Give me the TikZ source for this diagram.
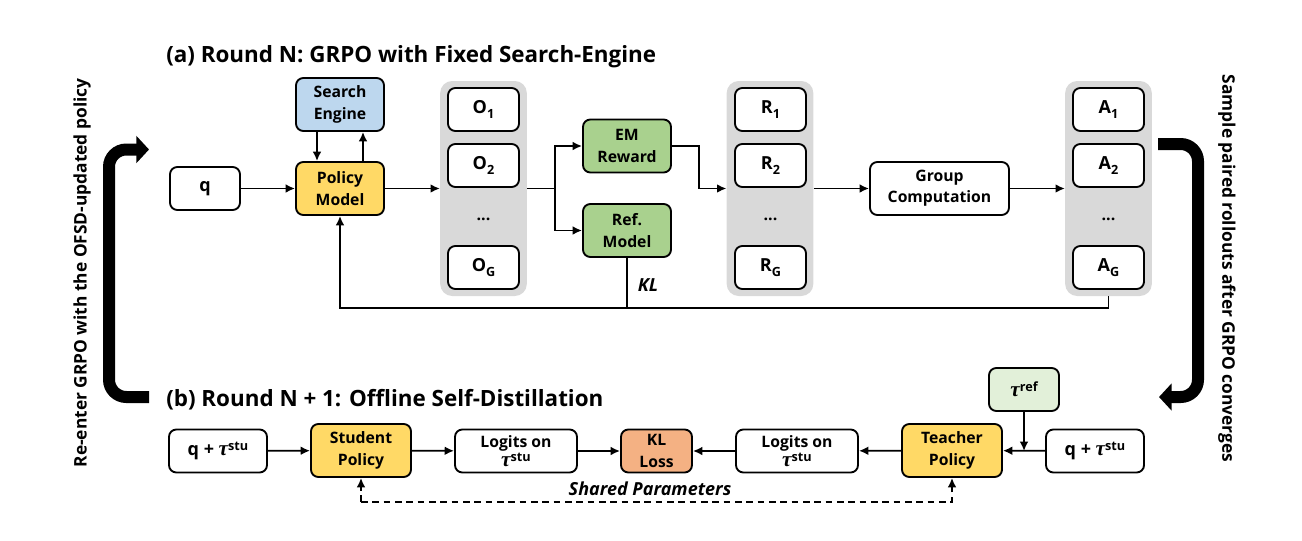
\documentclass[tikz,border=0pt]{standalone}
\usepackage{fontspec}
\setmainfont{Open Sans}
\newfontfamily\taufont{Liberation Serif}
\usetikzlibrary{arrows.meta}
\newcommand{\lowtxt}[1]{\raisebox{-0.45ex}{\fontsize{9.5pt}{9.5pt}\selectfont #1}}
\newcommand{\hightxt}[1]{\raisebox{0.6ex}{\fontsize{9.5pt}{9.5pt}\selectfont #1}}
\newcommand{\tautxt}{{\taufont\bfseries\itshape\fontsize{16pt}{14pt}\selectfont τ}}
\newcommand{\bigtxt}{\fontsize{13.5pt}{14pt}\selectfont}
\tikzset{
  basebox/.style={draw=black,line width=1.4pt,rounded corners=5.5pt,align=center,inner sep=0pt,
    font=\fontsize{11.8pt}{16pt}\selectfont\bfseries,text=black},
  plainbox/.style={basebox,fill=white},
  rowbox/.style={plainbox,minimum width=53.25pt,minimum height=32.25pt,font=\bigtxt\bfseries},
  smallbox/.style={basebox,minimum width=66pt,minimum height=39.75pt},
  panelbox/.style={fill=black!15,draw=none,rounded corners=9pt,minimum width=65pt,minimum height=161.25pt,inner sep=0pt},
  link/.style={draw=black,line width=1.35pt,-{Latex[length=7pt,width=6.5pt]}},
  plainlink/.style={draw=black,line width=1.35pt},
  dashlink/.style={link,dash pattern=on 5pt off 3.5pt},
  bigarrow/.style={draw=black,line width=9pt,rounded corners=13pt,-{Triangle[length=9.5pt,width=20pt]}},
  titletext/.style={font=\fontsize{16.8pt}{18pt}\selectfont\bfseries,text=black,inner sep=0pt,anchor=west},
  sidetext/.style={font=\fontsize{13pt}{14pt}\selectfont\bfseries,text=black,inner sep=0pt},
  notetext/.style={font=\fontsize{13.5pt}{14pt}\selectfont\bfseries\itshape,text=black,inner sep=0pt},
  dotstext/.style={font=\fontsize{12pt}{12pt}\selectfont\bfseries,inner sep=0pt}
}
\definecolor{blueb}{HTML}{BDD7EE}
\definecolor{yellowb}{HTML}{FFD966}
\definecolor{greenb}{HTML}{A9D18E}
\definecolor{paleg}{HTML}{E2F0D9}
\definecolor{orangeb}{HTML}{F4B183}
\begin{document}
\begin{tikzpicture}[x=0.75pt,y=-0.75pt]
\useasboundingbox (0,0) rectangle (1302,540);

% titles
\node[titletext] (ta) at (166,57) {(a) Round N: GRPO with Fixed Search-Engine};
\node[titletext] (tb) at (166,400) {(b) Round N + 1: Offline Self-Distillation};
\node[sidetext,rotate=90] (sl) at (82,273) {Re-enter GRPO with the OFSD-updated policy};
\node[sidetext,rotate=-90] (sr) at (1227,268.5) {Sample paired rollouts after GRPO converges};

% panels
\node[panelbox] (op) at (483.5,188.5) {};
\node[panelbox] (rp) at (770,188.5) {};
\node[panelbox] (ap) at (1108.5,188.5) {};

% top row
\node[plainbox,minimum width=52.5pt,minimum height=32.25pt,font=\bigtxt\bfseries] (q) at (205,188.5) {q};
\node[smallbox,fill=blueb] (se) at (340,104.5) {Search\\Engine};
\node[smallbox,fill=yellowb] (pm) at (340,188.5) {Policy\\Model};
\node[smallbox,fill=greenb] (em) at (627,146) {EM\\Reward};
\node[smallbox,fill=greenb] (rm) at (627,230.5) {Ref.\\Model};
\node[plainbox,minimum width=104.25pt,minimum height=39.75pt] (gc) at (939.5,188.5) {Group\\Computation};

\node[rowbox] (o1) at (483.5,109.5) {O\lowtxt{1}};
\node[rowbox] (o2) at (483.5,165.5) {O\lowtxt{2}};
\node[dotstext] (od) at (483.5,219) {...};
\node[rowbox] (og) at (483.5,267.5) {O\lowtxt{G}};
\node[rowbox] (r1) at (770.5,109.5) {R\lowtxt{1}};
\node[rowbox] (r2) at (770.5,165.5) {R\lowtxt{2}};
\node[dotstext] (rd) at (770.5,219) {...};
\node[rowbox] (rg) at (770.5,267.5) {R\lowtxt{G}};
\node[rowbox] (a1) at (1108.5,109.5) {A\lowtxt{1}};
\node[rowbox] (a2) at (1108.5,165.5) {A\lowtxt{2}};
\node[dotstext] (ad) at (1108.5,219) {...};
\node[rowbox] (ag) at (1108.5,267.5) {A\lowtxt{G}};

\coordinate (split) at (555,188.5);
\coordinate (bend) at (699,146);
\coordinate (fb) at (627,308);
\coordinate (sedown) at (317,130);
\coordinate (seup) at (363,130);

\draw[link] (q) -- (pm);
\draw[link] (sedown |- se.south) -- (sedown |- pm.north);
\draw[link] (seup |- pm.north) -- (seup |- se.south);
\draw[link] (pm) -- (op);
\draw[plainlink] (op) -- (split);
\draw[link] (split) |- (em.west);
\draw[link] (split) |- (rm.west);
\draw[link] (em.east) -- (bend) |- (rp.west);
\draw[link] (rp) -- (gc);
\draw[link] (gc) -- (ap);
\draw[plainlink] (rm.south) -- (fb);
\draw[link] (ap.south) |- (fb) -| (pm.south);
\node[notetext] (kl) at (648,285) {KL};

% bottom row
\node[plainbox,minimum width=73.5pt,minimum height=32.25pt,font=\bigtxt\bfseries] (ql) at (218,451) {q + \tautxt\hightxt{stu}};
\node[smallbox,minimum width=75pt,fill=yellowb] (sp) at (361,450.5) {Student\\Policy};
\node[plainbox,minimum width=91.5pt,minimum height=32.25pt] (ll) at (516,451) {Logits on\\[-1.5pt]\tautxt\hightxt{stu}};
\node[basebox,fill=orangeb,minimum width=53.25pt,minimum height=32.25pt] (kll) at (656.5,451) {KL\\Loss};
\node[plainbox,minimum width=91.5pt,minimum height=32.25pt] (lr) at (797,451) {Logits on\\[-1.5pt]\tautxt\hightxt{stu}};
\node[smallbox,minimum width=75pt,fill=yellowb] (tp) at (952,450.5) {Teacher\\Policy};
\node[plainbox,minimum width=73.5pt,minimum height=32.25pt,font=\bigtxt\bfseries] (qr) at (1095,451) {q + \tautxt\hightxt{stu}};
\node[basebox,fill=paleg,minimum width=52.5pt,minimum height=32.25pt] (tr) at (1024,389.5) {\tautxt\hightxt{ref}};
\coordinate (join) at (1024,451);
\coordinate (dl) at (361,502);

\draw[link] (ql) -- (sp);
\draw[link] (sp) -- (ll);
\draw[link] (ll) -- (kll);
\draw[link] (lr) -- (kll);
\draw[link] (tp) -- (lr);
\draw[link] (qr) -- (tp);
\draw[link] (tr) -- (join);
\draw[dashlink] (dl) -- (sp.south);
\draw[dashlink] (dl) -| (tp.south);
\node[notetext] (sh) at (650,489) {Shared Parameters};

% thick arrows
\coordinate (la) at (149,397);
\coordinate (lb) at (109,397);
\coordinate (lc) at (109,149.5);
\coordinate (ld) at (149,149.5);
\draw[bigarrow] (la) -- (lb) -- (lc) -- (ld);
\coordinate (ra) at (1158,144);
\coordinate (rb) at (1198,144);
\coordinate (rc) at (1198,397);
\coordinate (rd2) at (1159,397);
\draw[bigarrow] (ra) -- (rb) -- (rc) -- (rd2);
\end{tikzpicture}
\end{document}
